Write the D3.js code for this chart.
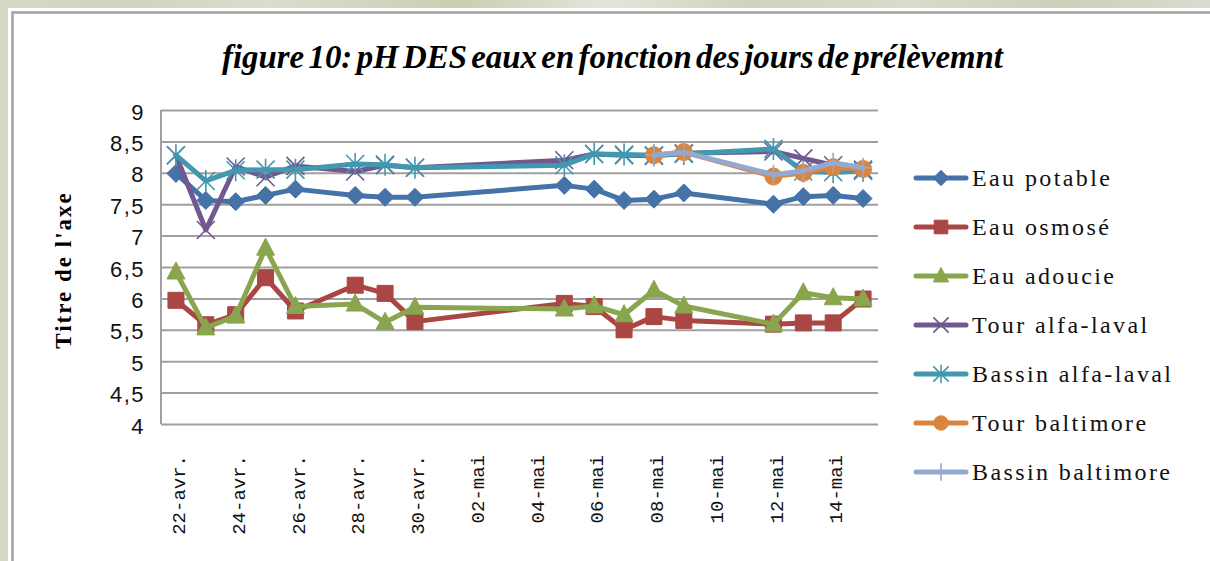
<!DOCTYPE html>
<html>
<head>
<meta charset="utf-8">
<script src="https://cdn.jsdelivr.net/npm/d3@7"></script>
<style>
  html, body { margin: 0; padding: 0; background: #fff; }
  svg { display: block; }
</style>
</head>
<body>
<svg id="chart"></svg>
<script>
/* global d3 */
// sampling days (22 avr -> 15 mai)
var dates = ["2013-04-22", "2013-04-23", "2013-04-24", "2013-04-25", "2013-04-26",
  "2013-04-28", "2013-04-29", "2013-04-30", "2013-05-05", "2013-05-06",
  "2013-05-07", "2013-05-08", "2013-05-09", "2013-05-12", "2013-05-13",
  "2013-05-14", "2013-05-15"];

var eauPotable = [7.99, 7.56, 7.54, 7.64, 7.74, 7.64, 7.61, 7.61, 7.80, 7.74, 7.56, 7.58, 7.68, 7.50, 7.62, 7.64, 7.59];
var eauOsmose = [5.97, 5.58, 5.74, 6.33, 5.80, 6.21, 6.08, 5.63, 5.92, 5.87, 5.50, 5.71, 5.65, 5.59, 5.61, 5.61, 5.99];
var eauAdoucie = [6.42, 5.53, 5.72, 6.80, 5.87, 5.91, 5.62, 5.86, 5.83, 5.88, 5.74, 6.13, 5.88, 5.59, 6.09, 6.01, 5.99];
var tourAlfa = [8.28, 7.09, 8.10, 7.93, 8.11, 8.02, 8.12, 8.08, 8.20, 8.30, 8.28, 8.27, 8.31, 8.34, 8.23, 8.12, 8.05];
var bassinAlfa = [8.28, 7.87, 8.04, 8.05, 8.05, 8.14, 8.13, 8.08, 8.12, 8.30, 8.29, 8.28, 8.30, 8.38, 8.02, 8.01, 8.03];
var tourBalt = [null, null, null, null, null, null, null, null, null, null, null, 8.28, 8.33, 7.94, 8.00, 8.09, 8.06];
var bassinBalt = [null, null, null, null, null, null, null, null, null, null, null, 8.28, 8.33, 7.97, 8.03, 8.16, 8.08];

var seriesNames = ["Eau potable", "Eau osmosé", "Eau adoucie", "Tour alfa-laval",
  "Bassin alfa-laval", "Tour baltimore", "Bassin baltimore"];
var seriesValues = [eauPotable, eauOsmose, eauAdoucie, tourAlfa, bassinAlfa, tourBalt, bassinBalt];

var tickDates = ["2013-04-22", "2013-04-24", "2013-04-26", "2013-04-28", "2013-04-30",
  "2013-05-02", "2013-05-04", "2013-05-06", "2013-05-08", "2013-05-10",
  "2013-05-12", "2013-05-14"];
var tickLabels = ["22-avr.", "24-avr.", "26-avr.", "28-avr.", "30-avr.", "02-mai",
  "04-mai", "06-mai", "08-mai", "10-mai", "12-mai", "14-mai"];
var yTicks = [4, 4.5, 5, 5.5, 6, 6.5, 7, 7.5, 8, 8.5, 9];

var titleText = "figure 10: pH DES eaux en fonction des jours de prélèvemnt";
var yTitle = "Titre de l'axe";

// excel 2007 palette + marker kind for each series
var colors = ["#4572A7", "#AA4643", "#89A54E", "#71588F", "#4198AF", "#DB843D", "#93A9CF"];
var markers = ["diamond", "square", "triangle", "x", "star", "circle", "plus"];

var width = 1210,
    height = 561;
var plot = {left: 161, right: 878, top: 110, bottom: 424};

var parse = d3.utcParse("%Y-%m-%d");

var svg = d3.select('#chart')
  .attr('width', width)
  .attr('height', height);

// textured-ish page background behind the chart frame
var defs = svg.append('defs');
var grad = defs.append('linearGradient')
  .attr('id', 'bg')
  .attr('x1', 0).attr('x2', 1).attr('y1', 0).attr('y2', 0);
[["0%", "#d6d9c8"], ["10%", "#cfd4bd"], ["22%", "#dcdccf"], ["38%", "#c9cfb0"],
  ["50%", "#e4e5da"], ["62%", "#ced3bb"], ["75%", "#d9dbcc"], ["88%", "#cbd0b7"], ["100%", "#dadcd0"]]
  .forEach(function(s) {
    grad.append('stop').attr('offset', s[0]).attr('stop-color', s[1]);
  });

svg.append('rect')
  .attr('width', width)
  .attr('height', height)
  .attr('fill', 'url(#bg)');

svg.append('rect')
  .attr('x', 8).attr('y', 8)
  .attr('width', width)
  .attr('height', height)
  .attr('fill', '#fff');

svg.append('rect')
  .attr('x', 12.5).attr('y', 12.5)
  .attr('width', width)
  .attr('height', height)
  .attr('fill', '#fff')
  .attr('stroke', '#a3a3a3')
  .attr('stroke-width', 2.5);

// title
svg.append('text')
  .attr('x', 222)
  .attr('y', 68)
  .attr('textLength', 781)
  .attr('lengthAdjust', 'spacingAndGlyphs')
  .style('font-family', '"Liberation Serif", serif')
  .style('font-style', 'italic')
  .style('font-weight', 'bold')
  .style('font-size', '34px')
  .style('word-spacing', '-4px')
  .text(titleText);

// scales
var x = d3.scaleUtc()
  .domain([d3.utcHour.offset(parse(dates[0]), -12), d3.utcHour.offset(parse(dates[dates.length - 1]), 12)])
  .range([plot.left, plot.right]);

var y = d3.scaleLinear()
  .domain([4, 9])
  .range([plot.bottom, plot.top]);

// horizontal gridlines
var grid = svg.append('g')
  .attr('transform', 'translate(' + plot.left + ',0)')
  .call(d3.axisLeft(y)
    .tickValues(yTicks)
    .tickSize(-(plot.right - plot.left))
    .tickFormat(''));
grid.select('.domain').remove();
grid.selectAll('line')
  .attr('stroke', '#a0a0a0')
  .attr('stroke-width', 2);

// left axis line
svg.append('line')
  .attr('x1', plot.left).attr('x2', plot.left)
  .attr('y1', plot.top).attr('y2', plot.bottom)
  .attr('stroke', '#a0a0a0')
  .attr('stroke-width', 2);

// y tick labels
var yAxis = svg.append('g')
  .attr('transform', 'translate(' + (plot.left - 16) + ',2)')
  .call(d3.axisLeft(y)
    .tickValues(yTicks)
    .tickSize(0)
    .tickFormat(function(d) { return String(d).replace('.', ','); }));
yAxis.select('.domain').remove();
yAxis.selectAll('text')
  .attr('x', 0)
  .style('font-family', '"Liberation Sans", Arial, sans-serif')
  .style('font-size', '22px')
  .style('letter-spacing', '1.5px')
  .attr('fill', '#111');

// x tick labels, vertical
var xAxis = svg.append('g')
  .attr('transform', 'translate(0,' + plot.bottom + ')')
  .call(d3.axisBottom(x)
    .tickValues(tickDates.map(parse))
    .tickSize(0)
    .tickFormat(function(d, i) { return tickLabels[i]; }));
xAxis.select('.domain').remove();
xAxis.selectAll('text')
  .attr('transform', 'rotate(-90)')
  .attr('x', -31)
  .attr('y', 2)
  .attr('dy', '0.35em')
  .style('text-anchor', 'end')
  .style('font-family', '"Liberation Mono", "Courier New", monospace')
  .style('font-size', '19px')
  .attr('fill', '#111');

// y axis title
svg.append('text')
  .attr('transform', 'translate(71,270) rotate(-90)')
  .attr('text-anchor', 'middle')
  .style('font-family', '"Liberation Serif", serif')
  .style('font-weight', 'bold')
  .style('font-size', '23px')
  .style('letter-spacing', '2px')
  .text(yTitle);

// marker shapes
function markerPath(kind, s) {
  var k = s || 1;
  var h = 9 * k;
  switch (kind) {
  case 'diamond':
    return 'M0,' + (-h) + 'L' + h + ',0L0,' + h + 'L' + (-h) + ',0Z';
  case 'square':
    return 'M' + (-8 * k) + ',' + (-8 * k) + 'h' + 16 * k + 'v' + 16 * k + 'h' + (-16 * k) + 'Z';
  case 'triangle':
    return 'M0,' + (-10 * k) + 'L' + 9 * k + ',' + 7 * k + 'L' + (-9 * k) + ',' + 7 * k + 'Z';
  case 'circle':
    return d3.symbol().type(d3.symbolCircle).size(Math.PI * 8.5 * 8.5 * k * k)();
  case 'x':
    return 'M' + (-h) + ',' + (-h) + 'L' + h + ',' + h + 'M' + h + ',' + (-h) + 'L' + (-h) + ',' + h;
  case 'star':
    return 'M' + (-h) + ',' + (-h) + 'L' + h + ',' + h + 'M' + h + ',' + (-h) + 'L' + (-h) + ',' + h +
      'M0,' + (-h - 2 * k) + 'L0,' + (h + 2 * k);
  case 'plus':
    return 'M0,' + (-h - 1) + 'L0,' + (h + 1) + 'M' + (-h) + ',0L' + h + ',0';
  }
}

function isStroked(kind) {
  return kind === 'x' || kind === 'star' || kind === 'plus';
}

function drawMarker(sel, kind, color, s) {
  sel.append('path')
    .attr('d', markerPath(kind, s))
    .attr('fill', isStroked(kind) ? 'none' : color)
    .attr('stroke', color)
    .attr('stroke-width', isStroked(kind) ? 1.6 : 1);
}

var line = d3.line()
  .defined(function(d) { return d.v != null; })
  .x(function(d) { return x(d.date); })
  .y(function(d) { return y(d.v); });

var seriesLayer = svg.append('g').classed('series', true);

seriesValues.forEach(function(vals, si) {
  var pts = vals.map(function(v, i) { return {date: parse(dates[i]), v: v}; });
  var g = seriesLayer.append('g');
  g.append('path')
    .datum(pts.filter(function(d) { return d.v != null; }))
    .attr('d', line)
    .attr('fill', 'none')
    .attr('stroke', colors[si])
    .attr('stroke-width', 5)
    .attr('stroke-linejoin', 'round')
    .attr('stroke-linecap', 'round');

  pts.filter(function(d) { return d.v != null; }).forEach(function(d) {
    var m = g.append('g')
      .attr('transform', 'translate(' + x(d.date) + ',' + y(d.v) + ')');
    drawMarker(m, markers[si], colors[si], 1);
  });
});

// legend
var legend = svg.append('g').classed('legend', true);
seriesNames.forEach(function(name, i) {
  var ly = 178 + i * 49;
  var item = legend.append('g')
    .attr('transform', 'translate(0,' + ly + ')');
  item.append('line')
    .attr('x1', 916).attr('x2', 966)
    .attr('stroke', colors[i])
    .attr('stroke-width', 5)
    .attr('stroke-linecap', 'round');
  var m = item.append('g').attr('transform', 'translate(941,0)');
  drawMarker(m, markers[i], colors[i], 0.85);
  item.append('text')
    .attr('x', 972)
    .attr('dy', '0.35em')
    .style('font-family', '"Liberation Serif", serif')
    .style('font-size', '24px')
    .style('letter-spacing', '2.4px')
    .attr('fill', '#111')
    .text(name);
});
</script>
</body>
</html>
